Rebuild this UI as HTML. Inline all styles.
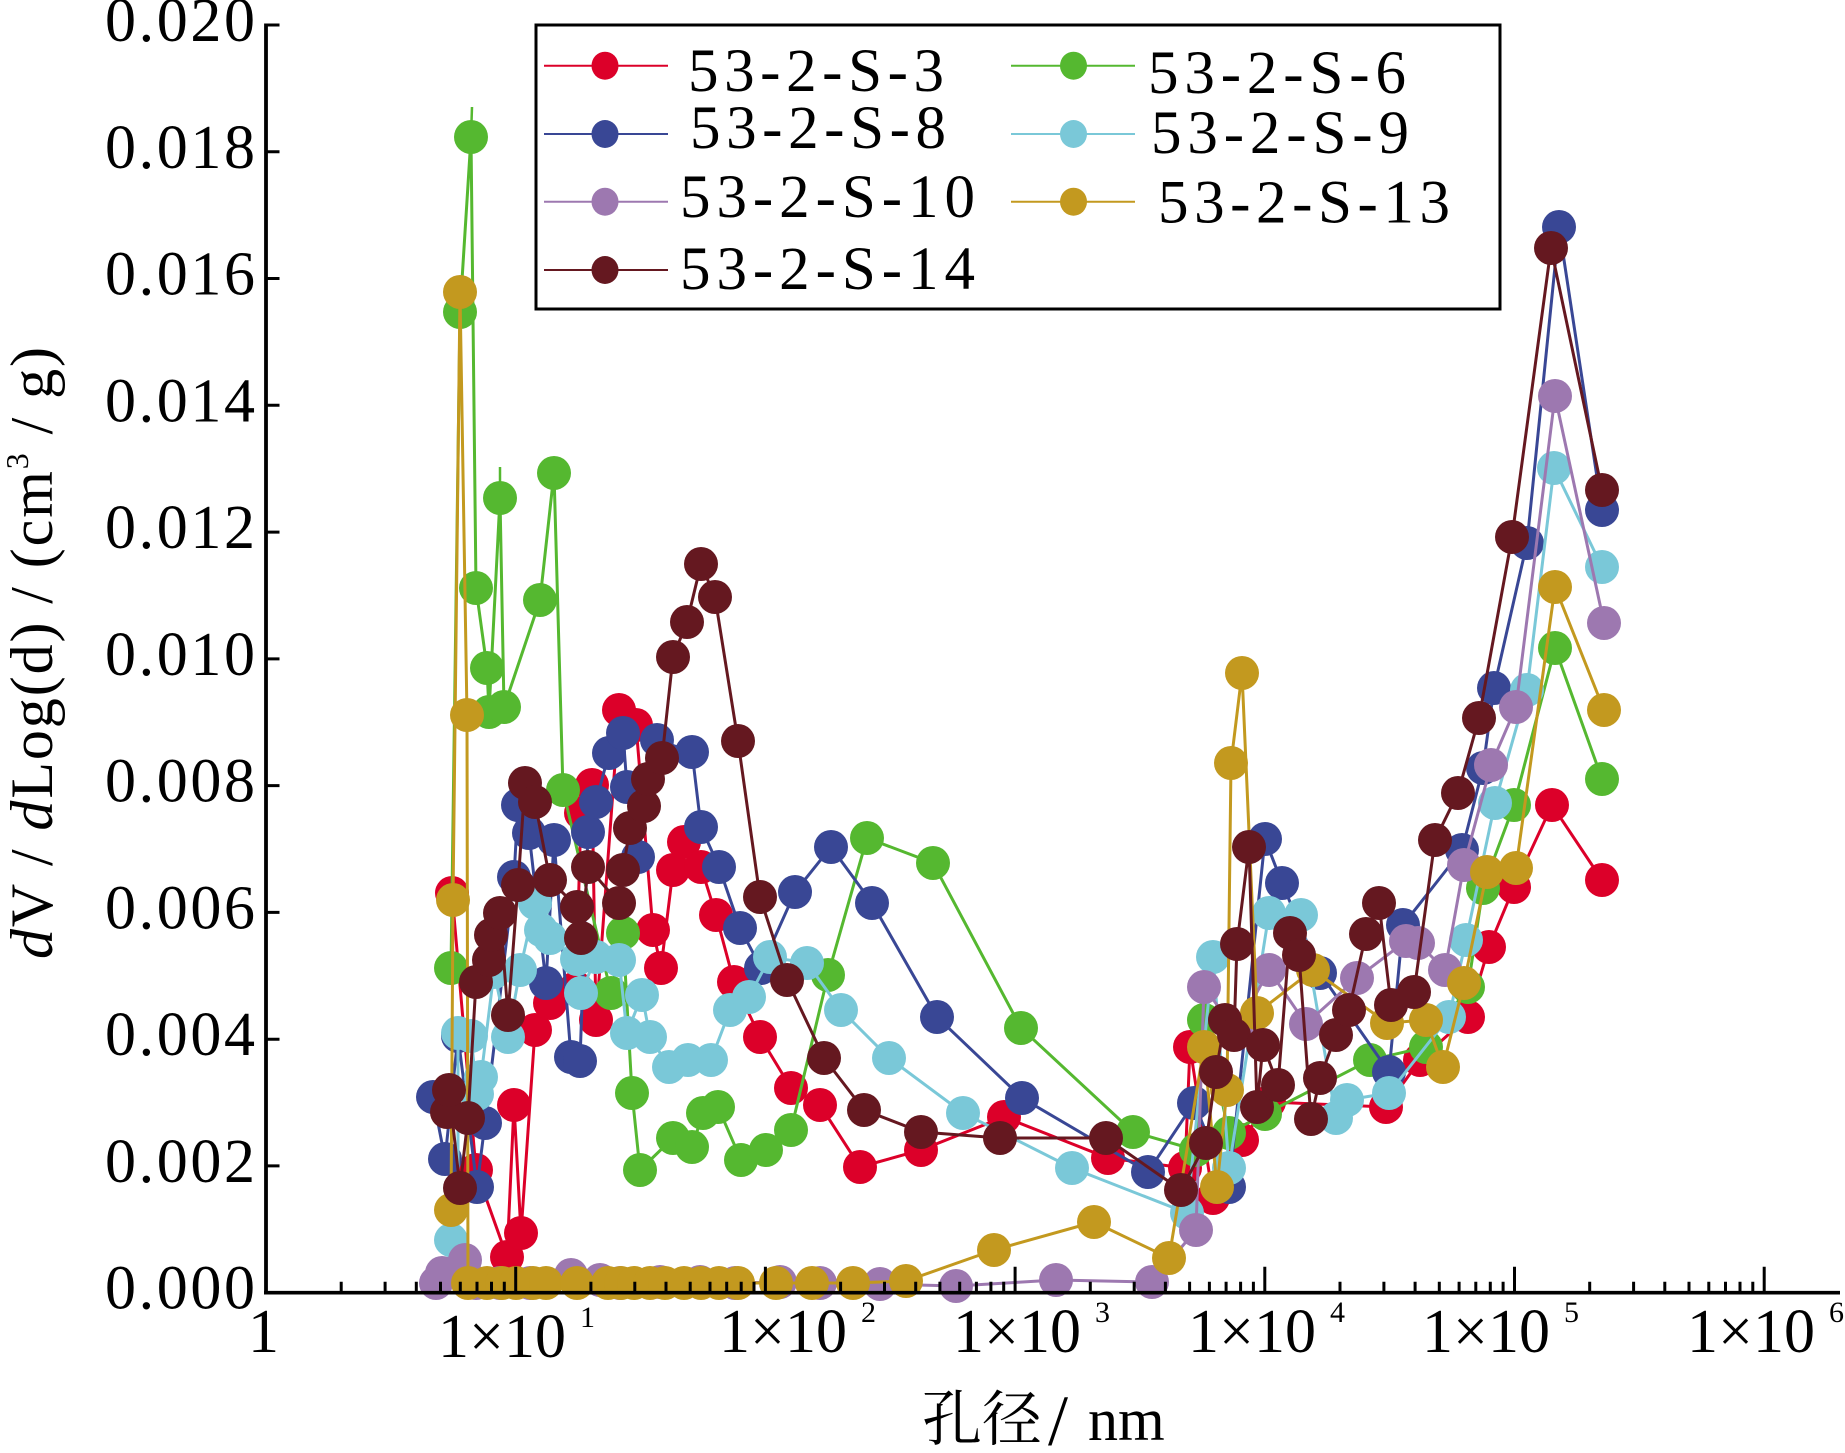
<!DOCTYPE html>
<html><head><meta charset="utf-8"><style>
html,body{margin:0;padding:0;background:#fff;}
svg{display:block;}
text{font-family:"Liberation Serif","Noto Serif CJK SC",serif;fill:#000;}
</style></head><body>
<svg width="1845" height="1453" viewBox="0 0 1845 1453" xmlns="http://www.w3.org/2000/svg">
<defs>
<marker id="mr" viewBox="-20 -20 40 40" markerWidth="40" markerHeight="40" refX="0" refY="0" markerUnits="userSpaceOnUse"><circle r="17" fill="#dc0029"/></marker>
<marker id="mg" viewBox="-20 -20 40 40" markerWidth="40" markerHeight="40" refX="0" refY="0" markerUnits="userSpaceOnUse"><circle r="17" fill="#55b830"/></marker>
<marker id="mb" viewBox="-20 -20 40 40" markerWidth="40" markerHeight="40" refX="0" refY="0" markerUnits="userSpaceOnUse"><circle r="17" fill="#394795"/></marker>
<marker id="mc" viewBox="-20 -20 40 40" markerWidth="40" markerHeight="40" refX="0" refY="0" markerUnits="userSpaceOnUse"><circle r="17" fill="#7ac8d8"/></marker>
<marker id="mp" viewBox="-20 -20 40 40" markerWidth="40" markerHeight="40" refX="0" refY="0" markerUnits="userSpaceOnUse"><circle r="17" fill="#9d78b0"/></marker>
<marker id="mo" viewBox="-20 -20 40 40" markerWidth="40" markerHeight="40" refX="0" refY="0" markerUnits="userSpaceOnUse"><circle r="17" fill="#c3991f"/></marker>
<marker id="mw" viewBox="-20 -20 40 40" markerWidth="40" markerHeight="40" refX="0" refY="0" markerUnits="userSpaceOnUse"><circle r="17" fill="#651820"/></marker>
</defs>

<!-- Series -->
<g fill="none" stroke-width="3" stroke-linejoin="miter">
<polyline stroke="#dc0029" marker-start="url(#mr)" marker-mid="url(#mr)" marker-end="url(#mr)" points="452,893 476,1170 507,1257 514,1105 521,1233 535,1030 550,1003 576,988 581,813 592,785 596,1020 619,710 636,725 653,930 661,968 673,870 684,842 701,867 716,915 734,982 760,1037 791,1088 820,1105 860,1167 921,1150 1004,1117 1108,1158 1185,1168 1190,1047 1213,1198 1242,1140 1269,1102 1386,1107 1420,1060 1468,1017 1489,947 1514,887 1552,805 1602,880"/>

<line x1="471" y1="137" x2="472" y2="107" stroke="#55b830" stroke-width="2.5"/>
<line x1="500" y1="498" x2="500" y2="467" stroke="#55b830" stroke-width="2.5"/>
<polyline stroke="#55b830" marker-start="url(#mg)" marker-mid="url(#mg)" marker-end="url(#mg)" points="451,968 460,312 471,137 476,588 487,668 489,712 500,498 504,707 540,600 554,473 563,790 611,993 623,933 632,1093 640,1170 673,1138 692,1147 703,1113 718,1107 741,1160 766,1150 791,1130 828,975 867,838 933,863 1021,1028 1133,1132 1196,1150 1204,1020 1229,1133 1265,1114 1370,1060 1426,1047 1468,987 1483,888 1514,805 1555,648 1602,779"/>

<polyline stroke="#394795" marker-start="url(#mb)" marker-mid="url(#mb)" marker-end="url(#mb)" points="433,1097 445,1159 458,1036 477,1187 485,1123 514,877 518,805 529,833 546,983 554,840 571,1057 580,1061 588,832 596,802 609,753 623,733 627,787 638,857 657,740 692,752 701,827 719,867 740,928 761,968 795,892 831,847 872,903 937,1017 1022,1098 1148,1172 1194,1103 1229,1187 1265,839 1282,883 1320,973 1389,1072 1403,925 1462,850 1483,768 1494,688 1527,543 1559,227 1602,510"/>

<polyline stroke="#7ac8d8" marker-start="url(#mc)" marker-mid="url(#mc)" marker-end="url(#mc)" points="451,1240 458,1270 458,1033 471,1036 477,1094 481,1077 494,972 508,1037 520,970 535,903 541,930 550,938 577,959 581,993 596,957 619,960 627,1033 642,995 650,1037 669,1067 688,1060 711,1060 730,1010 749,997 770,957 807,963 841,1010 889,1058 963,1113 1072,1168 1187,1213 1213,957 1229,1168 1269,913 1301,915 1336,1118 1347,1100 1389,1093 1449,1017 1466,940 1495,803 1527,690 1554,468 1602,567"/>

<polyline stroke="#9d78b0" marker-start="url(#mp)" marker-mid="url(#mp)" marker-end="url(#mp)" points="436,1283 442,1273 465,1260 476,1283 500,1283 530,1283 571,1275 600,1280 620,1283 660,1282 700,1282 735,1283 780,1282 820,1283 880,1284 956,1286 1056,1280 1152,1282 1196,1230 1204,987 1236,1031 1269,970 1306,1024 1357,978 1406,941 1418,943 1445,970 1464,865 1491,765 1516,707 1555,396 1604,623"/>

<polyline stroke="#c3991f" marker-start="url(#mo)" marker-mid="url(#mo)" marker-end="url(#mo)" points="451,1210 453,900 460,292 467,715 468,1283 487,1283 502,1283 516,1283 533,1283 546,1283 577,1283 608,1283 621,1283 634,1283 650,1283 665,1283 684,1283 701,1283 719,1283 738,1283 776,1283 812,1283 853,1283 906,1281 994,1250 1094,1222 1169,1258 1204,1047 1217,1187 1227,1090 1231,763 1242,673 1257,1013 1313,970 1387,1023 1426,1020 1443,1067 1464,983 1487,872 1516,868 1555,587 1604,710"/>

<polyline stroke="#651820" marker-start="url(#mw)" marker-mid="url(#mw)" marker-end="url(#mw)" points="447,1112 449,1090 460,1188 468,1118 476,982 489,960 491,935 500,913 508,1015 518,885 525,783 535,802 550,880 577,907 581,938 588,867 619,903 623,870 630,828 644,806 648,779 662,758 673,657 687,622 701,564 715,597 738,741 760,897 787,980 824,1058 864,1110 921,1132 1000,1138 1106,1138 1181,1190 1206,1143 1216,1072 1225,1020 1234,1035 1237,944 1249,847 1257,1107 1263,1045 1278,1085 1290,933 1299,955 1311,1119 1320,1078 1336,1035 1349,1010 1366,934 1379,903 1391,1005 1414,992 1435,840 1458,793 1479,718 1512,537 1551,248 1602,490"/>
</g>

<!-- Axes -->
<g stroke="#000" fill="none">
<line x1="266" y1="23.5" x2="266" y2="1294.5" stroke-width="3.8"/>
<line x1="264" y1="1292.7" x2="1840" y2="1292.7" stroke-width="3.6"/>
<path stroke-width="3" d="M266 25H279.5M266 151.8H279.5M266 278.5H279.5M266 405.3H279.5M266 532.1H279.5M266 658.9H279.5M266 785.6H279.5M266 912.4H279.5M266 1039.2H279.5M266 1165.9H279.5"/>
<path stroke-width="3" d="M515.7 1292.7V1266.7M765.4 1292.7V1266.7M1015.1 1292.7V1266.7M1264.8 1292.7V1266.7M1514.5 1292.7V1266.7M1764.2 1292.7V1266.7"/>
<path stroke-width="3" d="M341.2 1292.7V1281.7M385.1 1292.7V1281.7M416.3 1292.7V1281.7M440.5 1292.7V1281.7M460.3 1292.7V1281.7M477 1292.7V1281.7M491.5 1292.7V1281.7M504.3 1292.7V1281.7
M590.9 1292.7V1281.7M634.8 1292.7V1281.7M666 1292.7V1281.7M690.2 1292.7V1281.7M710 1292.7V1281.7M726.7 1292.7V1281.7M741.2 1292.7V1281.7M754 1292.7V1281.7
M840.6 1292.7V1281.7M884.5 1292.7V1281.7M915.7 1292.7V1281.7M939.9 1292.7V1281.7M959.7 1292.7V1281.7M976.4 1292.7V1281.7M990.9 1292.7V1281.7M1003.7 1292.7V1281.7
M1090.3 1292.7V1281.7M1134.2 1292.7V1281.7M1165.4 1292.7V1281.7M1189.6 1292.7V1281.7M1209.4 1292.7V1281.7M1226.1 1292.7V1281.7M1240.6 1292.7V1281.7M1253.4 1292.7V1281.7
M1340 1292.7V1281.7M1383.9 1292.7V1281.7M1415.1 1292.7V1281.7M1439.3 1292.7V1281.7M1459.1 1292.7V1281.7M1475.8 1292.7V1281.7M1490.3 1292.7V1281.7M1503.1 1292.7V1281.7
M1589.7 1292.7V1281.7M1633.6 1292.7V1281.7M1664.8 1292.7V1281.7M1689 1292.7V1281.7M1708.8 1292.7V1281.7M1725.5 1292.7V1281.7M1740 1292.7V1281.7M1752.8 1292.7V1281.7"/>
</g>

<!-- Y tick labels -->
<g font-size="62">
<text x="105" y="41" textLength="150" lengthAdjust="spacing">0.020</text>
<text x="105" y="167.8" textLength="150" lengthAdjust="spacing">0.018</text>
<text x="105" y="294.5" textLength="150" lengthAdjust="spacing">0.016</text>
<text x="105" y="421.3" textLength="150" lengthAdjust="spacing">0.014</text>
<text x="105" y="548.1" textLength="150" lengthAdjust="spacing">0.012</text>
<text x="105" y="674.9" textLength="150" lengthAdjust="spacing">0.010</text>
<text x="105" y="801.6" textLength="150" lengthAdjust="spacing">0.008</text>
<text x="105" y="928.4" textLength="150" lengthAdjust="spacing">0.006</text>
<text x="105" y="1055.2" textLength="150" lengthAdjust="spacing">0.004</text>
<text x="105" y="1181.9" textLength="150" lengthAdjust="spacing">0.002</text>
<text x="105" y="1308.7" textLength="150" lengthAdjust="spacing">0.000</text>
</g>

<!-- X tick labels -->
<g font-size="62">
<text x="248" y="1352">1</text>
<text x="438" y="1357">1×10</text><text x="580" y="1327" font-size="30">1</text>
<text x="719" y="1352">1×10</text><text x="861" y="1322" font-size="30">2</text>
<text x="953" y="1352">1×10</text><text x="1095" y="1322" font-size="30">3</text>
<text x="1188" y="1352">1×10</text><text x="1330" y="1322" font-size="30">4</text>
<text x="1422" y="1352">1×10</text><text x="1564" y="1322" font-size="30">5</text>
<text x="1687" y="1352">1×10</text><text x="1829" y="1322" font-size="30">6</text>
</g>

<!-- Axis titles -->
<text y="1440" font-size="60"><tspan x="922">孔径</tspan></text>
<text x="1048" y="1445" font-size="72">/</text>
<text x="1088" y="1440" font-size="60">nm</text>

<text transform="translate(52,959) rotate(-90)" font-size="60" textLength="612" lengthAdjust="spacing"><tspan font-style="italic">d</tspan>V / <tspan font-style="italic">d</tspan>Log(d) / (cm<tspan font-size="32" dy="-24">3</tspan><tspan dy="24"> / g)</tspan></text>

<!-- Legend -->
<rect x="536" y="25" width="964" height="284" fill="#fff" stroke="#000" stroke-width="3"/>
<g stroke-width="2">
<line x1="544" y1="65.7" x2="668" y2="65.7" stroke="#dc0029"/>
<line x1="1011" y1="65.7" x2="1135" y2="65.7" stroke="#55b830"/>
<line x1="544" y1="134" x2="668" y2="134" stroke="#394795"/>
<line x1="1011" y1="134" x2="1135" y2="134" stroke="#7ac8d8"/>
<line x1="544" y1="201.7" x2="668" y2="201.7" stroke="#9d78b0"/>
<line x1="1011" y1="201.7" x2="1135" y2="201.7" stroke="#c3991f"/>
<line x1="544" y1="270" x2="668" y2="270" stroke="#651820"/>
</g>
<ellipse cx="605" cy="65.7" rx="13.5" ry="14" fill="#dc0029"/>
<ellipse cx="1073.5" cy="65.7" rx="13.5" ry="14" fill="#55b830"/>
<ellipse cx="605" cy="134" rx="13.5" ry="14" fill="#394795"/>
<ellipse cx="1073.5" cy="134" rx="13.5" ry="14" fill="#7ac8d8"/>
<ellipse cx="605" cy="201.7" rx="13.5" ry="14" fill="#9d78b0"/>
<ellipse cx="1073.5" cy="201.7" rx="13.5" ry="14" fill="#c3991f"/>
<ellipse cx="605" cy="270" rx="13.5" ry="14" fill="#651820"/>
<g font-size="61">
<text x="688" y="91" textLength="256" lengthAdjust="spacing">53-2-S-3</text>
<text x="1148" y="93" textLength="258" lengthAdjust="spacing">53-2-S-6</text>
<text x="690" y="148" textLength="256" lengthAdjust="spacing">53-2-S-8</text>
<text x="1151" y="153" textLength="258" lengthAdjust="spacing">53-2-S-9</text>
<text x="680" y="217" textLength="295" lengthAdjust="spacing">53-2-S-10</text>
<text x="1158" y="222.7" textLength="292" lengthAdjust="spacing">53-2-S-13</text>
<text x="680" y="289" textLength="295" lengthAdjust="spacing">53-2-S-14</text>
</g>
</svg>
</body></html>
